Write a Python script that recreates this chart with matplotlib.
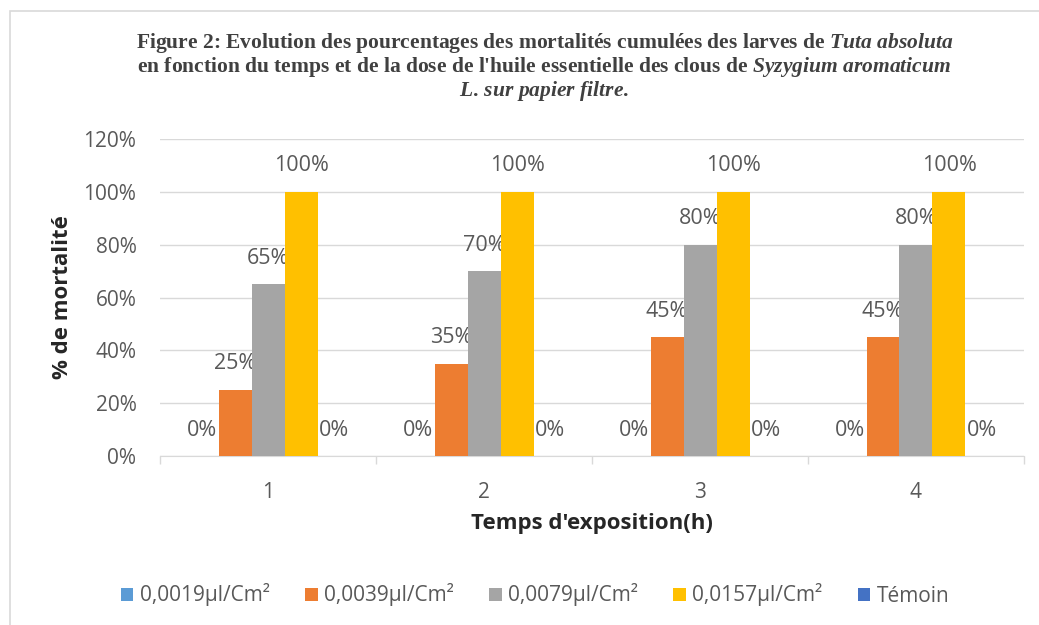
import numpy as np
import matplotlib
matplotlib.use("Agg")
from matplotlib import pyplot as plt
from matplotlib.patches import Rectangle
from matplotlib.ticker import PercentFormatter

plt.rcParams['mathtext.fontset'] = 'custom'
plt.rcParams['mathtext.rm'] = 'Liberation Serif:bold'
plt.rcParams['mathtext.it'] = 'Liberation Serif:italic:bold'
plt.rcParams['mathtext.bf'] = 'Liberation Serif:bold'

# data
temps = ['1', '2', '3', '4']
series = ['0,0019µl/Cm²', '0,0039µl/Cm²', '0,0079µl/Cm²', '0,0157µl/Cm²', 'Témoin']
dose_0019 = [0, 0, 0, 0]
dose_0039 = [25, 35, 45, 45]
dose_0079 = [65, 70, 80, 80]
dose_0157 = [100, 100, 100, 100]
temoin = [0, 0, 0, 0]
couleurs = ['#5B9BD5', '#ED7D31', '#A5A5A5', '#FFC000', '#4472C4']

valeurs = [dose_0019, dose_0039, dose_0079, dose_0157, temoin]

fig = plt.figure(figsize=(10.39, 6.25), dpi=100)
fig.patches.append(Rectangle((10 / 1039, -0.1), 1.2, 1 - 11 / 625 + 0.1, transform=fig.transFigure,
                             fill=False, edgecolor='#d9d9d9', lw=1.2, zorder=0))
ax = fig.add_axes([160 / 1039, 1 - 456 / 625, 864 / 1039, 317 / 625])

font = 'Open Sans'
gris_txt = '#595959'
w = 33 / 216
index = np.arange(len(temps))
for i, (vals, nom, c) in enumerate(zip(valeurs, series, couleurs)):
    pos = index + (i - 2) * w
    ax.bar(pos, np.array(vals) / 100, width=w, color=c, label=nom, zorder=3)
    for x, v in zip(pos, vals):
        ax.annotate(f'{v}%', (x, v / 100), xytext=(0, 26), textcoords='offset pixels',
                    ha='center', va='center', fontsize=15.5, color=gris_txt, family=font)

ax.set_xlim(-0.5, 3.5)
ax.set_ylim(0, 1.2)
ax.set_yticks(np.arange(0, 1.21, 0.2))
ax.yaxis.set_major_formatter(PercentFormatter(1.0, decimals=0))
ax.set_xticks(index)
ax.set_xticklabels(temps)
ax.set_xticks(np.arange(-0.5, 3.6, 1), minor=True)
ax.tick_params(axis='x', which='major', length=0, pad=19, labelsize=15, labelcolor=gris_txt)
ax.tick_params(axis='x', which='minor', length=6, color='#d9d9d9', width=1)
ax.tick_params(axis='y', length=0, pad=17, labelsize=15, labelcolor=gris_txt)
for lab in ax.get_xticklabels() + ax.get_yticklabels():
    lab.set_family(font)
ax.grid(axis='y', color='#d9d9d9', lw=1, zorder=0)
for s in ['top', 'right', 'left']:
    ax.spines[s].set_visible(False)
ax.spines['bottom'].set_color('#d9d9d9')

ax.set_ylabel('% de mortalité', fontsize=16, fontweight='bold', family=font, color='#262626')
ax.yaxis.set_label_coords((62 - 160) / 864, 0.5)
ax.set_xlabel("Temps d'exposition(h)", fontsize=16, fontweight='bold', family=font, color='#262626')
ax.xaxis.set_label_coords(0.5, -(523 - 456) / 317)
ax.xaxis.label.set_va('center')
ax.yaxis.label.set_va('center')

titre = ("Figure 2: Evolution des pourcentages des mortalités cumulées des larves de $\\mathit{Tuta\\ absoluta}$\n"
         "en fonction du temps et de la dose de l'huile essentielle des clous de $\\mathit{Syzygium\\ aromaticum}$\n"
         "$\\mathit{L.\\,sur\\ papier\\ filtre}$.")
fig.text(0.524, 1 - 67 / 625, titre, ha='center', va='center', fontsize=15.5, fontweight='bold',
         family='Liberation Serif', color='#404040', linespacing=1.0)

fig.legend(loc='center', bbox_to_anchor=(0.515, 1 - 595 / 625), ncol=5, frameon=False,
           prop={'family': font, 'size': 15}, labelcolor=gris_txt, handlelength=0.6, handleheight=0.6,
           handletextpad=0.3, columnspacing=1.7)

fig.savefig('out.png', dpi=100)
